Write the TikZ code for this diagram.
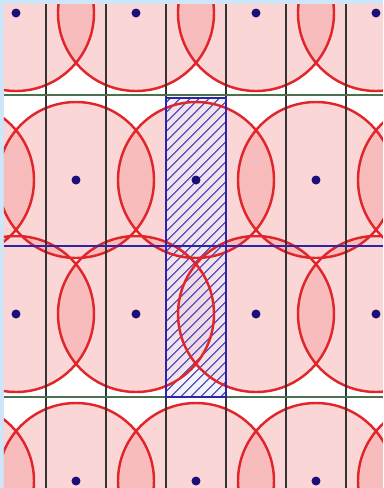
\documentclass[tikz,border=0pt]{standalone}
\usetikzlibrary{patterns.meta}
\definecolor{discred}{HTML}{E0262B}
\definecolor{disc}{HTML}{F58C8C}
\definecolor{centre}{HTML}{1C0F7A}
\definecolor{cellblue}{HTML}{2B25A8}
\definecolor{frame}{HTML}{CFE6F8}
\tikzset{
  discfill/.style={fill=disc, fill opacity=0.35},
  discline/.style={draw=discred, line width=1.4pt},
  gridline/.style={draw=black!80, line width=1.3pt},
  rowline/.style={draw=black!65!green!40!gray, line width=1.4pt},
  centredot/.style={fill=centre}
}
\begin{document}
\begin{tikzpicture}[x=0.02cm, y=-0.02cm]
    \fill[frame] (0,0) rectangle (383,488);
    \fill[white] (4,4) rectangle (383,488);
    \useasboundingbox (0,0) rectangle (383,488);
    \begin{scope}
    \clip (4,4) rectangle (383,488);
%    discs, first the fills so that the lenses come out darker
    \fill[discfill] (16,13) circle (78); \fill[discfill] (136,13) circle (78);
    \fill[discfill] (256,13) circle (78); \fill[discfill] (376,13) circle (78);
    \fill[discfill] (-44,180) circle (78); \fill[discfill] (76,180) circle (78);
    \fill[discfill] (196,180) circle (78); \fill[discfill] (316,180) circle (78);
    \fill[discfill] (436,180) circle (78);
    \fill[discfill] (16,314) circle (78); \fill[discfill] (136,314) circle (78);
    \fill[discfill] (256,314) circle (78); \fill[discfill] (376,314) circle (78);
    \fill[discfill] (-44,481) circle (78); \fill[discfill] (76,481) circle (78);
    \fill[discfill] (196,481) circle (78); \fill[discfill] (316,481) circle (78);
    \fill[discfill] (436,481) circle (78);
%    the hatched cell
    \fill[blue!8, fill opacity=0.6] (166,98) rectangle (226,397);
    \fill[pattern={Lines[angle=45,distance=4pt,line width=0.8pt]}, pattern color=cellblue!75] (166,98) rectangle (226,397);
%    disc outlines
    \draw[discline] (16,13) circle (78); \draw[discline] (136,13) circle (78);
    \draw[discline] (256,13) circle (78); \draw[discline] (376,13) circle (78);
    \draw[discline] (-44,180) circle (78); \draw[discline] (76,180) circle (78);
    \draw[discline] (196,180) circle (78); \draw[discline] (316,180) circle (78);
    \draw[discline] (436,180) circle (78);
    \draw[discline] (16,314) circle (78); \draw[discline] (136,314) circle (78);
    \draw[discline] (256,314) circle (78); \draw[discline] (376,314) circle (78);
    \draw[discline] (-44,481) circle (78); \draw[discline] (76,481) circle (78);
    \draw[discline] (196,481) circle (78); \draw[discline] (316,481) circle (78);
    \draw[discline] (436,481) circle (78);
%    strips
    \draw[gridline] (46,4) -- (46,488);
    \draw[gridline] (106,4) -- (106,488);
    \draw[gridline] (166,4) -- (166,488);
    \draw[gridline] (226,4) -- (226,488);
    \draw[gridline] (286,4) -- (286,488);
    \draw[gridline] (346,4) -- (346,488);
    \draw[rowline] (4,95) -- (383,95);
    \draw[rowline] (4,397) -- (383,397);
    \draw[cellblue, line width=1.2pt] (166,98) rectangle (226,397);
    \draw[cellblue, line width=1.3pt] (4,246) -- (383,246);
%    centres
    \fill[centredot] (16,13) circle (4.5); \fill[centredot] (136,13) circle (4.5);
    \fill[centredot] (256,13) circle (4.5); \fill[centredot] (376,13) circle (4.5);
    \fill[centredot] (76,180) circle (4.5); \fill[centredot] (196,180) circle (4.5);
    \fill[centredot] (316,180) circle (4.5);
    \fill[centredot] (16,314) circle (4.5); \fill[centredot] (136,314) circle (4.5);
    \fill[centredot] (256,314) circle (4.5); \fill[centredot] (376,314) circle (4.5);
    \fill[centredot] (76,481) circle (4.5); \fill[centredot] (196,481) circle (4.5);
    \fill[centredot] (316,481) circle (4.5);
    \end{scope}
\end{tikzpicture}
\end{document}
